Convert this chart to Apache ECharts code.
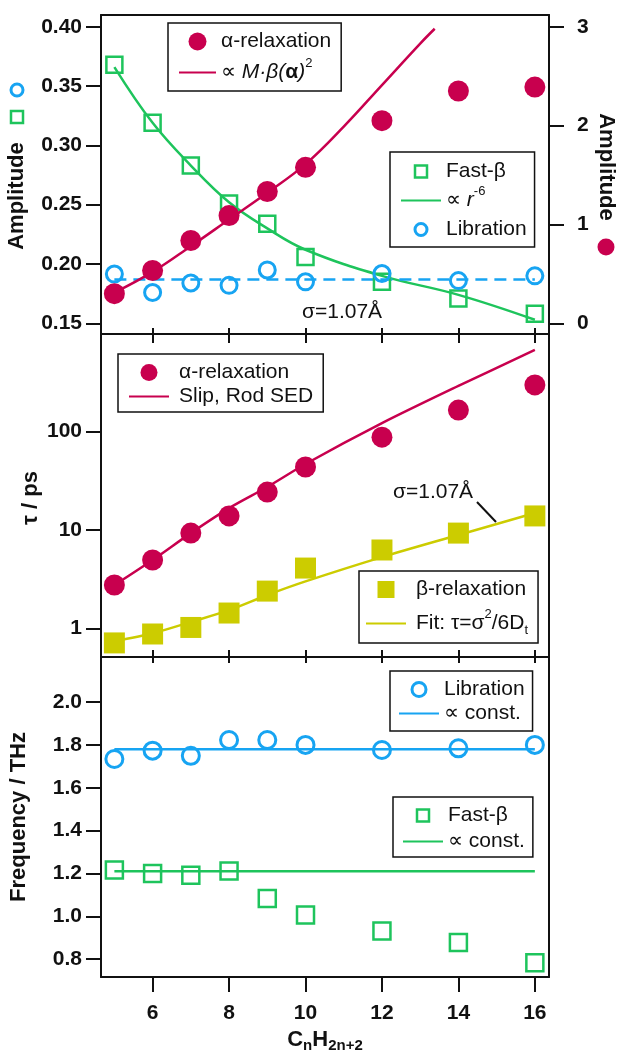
<!DOCTYPE html>
<html>
<head>
<meta charset="utf-8">
<script src="https://cdn.jsdelivr.net/npm/echarts@6/dist/echarts.min.js"></script>
<style>
  html, body { margin: 0; padding: 0; background: #fff; }
  #chart { width: 618px; height: 1054px; }
</style>
</head>
<body>
<div id="chart"></div>
<script>
// Chain length n of the alkane CnH2n+2
const chainLength = [5, 6, 7, 8, 9, 10, 12, 14, 16];
const xTicks = [6, 8, 10, 12, 14, 16];

// Panel 1: amplitudes
const fastBetaAmp = [0.368, 0.319, 0.283, 0.251, 0.234, 0.206, 0.185, 0.171, 0.158];
const fastBetaAmpFit = [0.366, 0.319, 0.283, 0.252, 0.230, 0.212, 0.190, 0.174, 0.153];
const librationAmp = [0.1915, 0.176, 0.184, 0.182, 0.195, 0.185, 0.192, 0.186, 0.190];
const librationAmpLevelX = [5, 16];
const librationAmpLevel = [0.187, 0.187];
const alphaAmp = [0.30, 0.534, 0.838, 1.09, 1.334, 1.578, 2.05, 2.35, 2.39];
const alphaAmpFitX = [5, 6, 7, 8, 9, 10, 11, 12, 13, 13.38];
const alphaAmpFit = [0.31, 0.52, 0.78, 1.05, 1.32, 1.61, 1.99, 2.41, 2.83, 2.98];
const ampTicksLeft = [0.15, 0.20, 0.25, 0.30, 0.35, 0.40];
const ampTicksRight = [0, 1, 2, 3];

// Panel 2: relaxation times (ps)
const alphaTau = [2.76, 4.95, 9.3, 13.9, 24.3, 43.7, 88, 166, 299];
const alphaTauFit = [2.75, 4.95, 9.3, 16.7, 27.4, 46.9, 122, 292, 678];
const betaTau = [0.71, 0.875, 1.02, 1.43, 2.39, 4.1, 6.26, 9.3, 13.9];
const betaTauFit = [0.74, 0.89, 1.16, 1.53, 2.18, 3.0, 5.3, 8.9, 14.9];
const tauTicks = [1, 10, 100];

// Panel 3: frequencies (THz)
const librationFreq = [1.734, 1.773, 1.749, 1.823, 1.823, 1.80, 1.776, 1.784, 1.80];
const librationFreqFitX = [5, 16];
const librationFreqFit = [1.78, 1.78];
const fastBetaFreq = [1.216, 1.20, 1.192, 1.212, 1.083, 1.006, 0.932, 0.878, 0.783];
const fastBetaFreqFitX = [5, 16];
const fastBetaFreqFit = [1.21, 1.21];
const freqTicks = [0.8, 1.0, 1.2, 1.4, 1.6, 1.8, 2.0];

const FONT = '"Liberation Sans", Arial, Helvetica, sans-serif';
const INK = '#111';
const RED = '#C8004E';
const GREEN = '#1EC45C';
const BLUE = '#17A4F2';
const OLIVE = '#CCCC00';
const CLEAR = 'rgba(0,0,0,0)';
const X_MIN = 4.65, X_MAX = 16.37;

const pairs = (xs, ys) => xs.map((x, i) => [x, ys[i]]);

const labelFont = { color: INK, fontFamily: FONT, fontSize: 21, fontWeight: 'bold' };

function xAxis(gridIndex, position, tickLen, showLabels) {
  return {
    type: 'value', gridIndex, position, min: X_MIN, max: X_MAX,
    axisLine: { show: true, onZero: false, lineStyle: { color: INK, width: 2 } },
    axisTick: { show: tickLen > 0, inside: false, length: tickLen, customValues: xTicks,
                lineStyle: { color: INK, width: 2 } },
    axisLabel: Object.assign({ show: showLabels, customValues: xTicks, margin: 26 }, labelFont),
    splitLine: { show: false }
  };
}

function yAxis(gridIndex, position, opts) {
  const ticks = opts.ticks;
  return Object.assign({
    type: 'value', gridIndex, position,
    axisLine: { show: true, onZero: false, lineStyle: { color: INK, width: 2 } },
    axisTick: { show: !!ticks, inside: false, length: 15, customValues: ticks,
                lineStyle: { color: INK, width: 2 } },
    axisLabel: Object.assign({ show: !!ticks, customValues: ticks, margin: opts.margin || 19,
                formatter: opts.fmt }, labelFont),
    splitLine: { show: false },
    minorTick: { show: false },
    minorSplitLine: { show: false }
  }, opts.extra);
}

const RICH = {
  i: { fontFamily: FONT, fontSize: 21, fontStyle: 'italic', color: INK, lineHeight: 21 },
  b: { fontFamily: FONT, fontSize: 21, fontWeight: 'bold', color: INK, lineHeight: 21 },
  sup: { fontFamily: FONT, fontSize: 13, color: INK, lineHeight: 13, padding: [0, 0, 18, 0] },
  sub: { fontFamily: FONT, fontSize: 13, color: INK, lineHeight: 13, padding: [16, 0, 2, 0] }
};

const LEGEND_TEXT = {
  alphaAmp: 'α-relaxation',
  alphaAmpFit: '∝ {i|M·β(}{b|α}{i|)}{sup|2}',
  fastBetaAmp: 'Fast-β',
  fastBetaAmpFit: '∝ {i|r}{sup|-6}',
  librationAmp: 'Libration',
  alphaTau: 'α-relaxation',
  alphaTauFit: 'Slip, Rod SED',
  betaTau: 'β-relaxation',
  betaTauFit: 'Fit: τ=σ{sup|2}/6D{sub|t}',
  librationFreq: 'Libration',
  librationFreqFit: '∝ const.',
  fastBetaFreq: 'Fast-β',
  fastBetaFreqFit: '∝ const.'
};

const SQUARE_ICON = 'path://M0,0L10,0L10,10L0,10Z';
// Fit entries: plain line, no marker in the middle
const lineEntry = (name) => ({ name, itemStyle: { color: CLEAR, borderColor: CLEAR, borderWidth: 0 } });

function legend(cfg) {
  return {
    orient: 'vertical', selectedMode: false,
    left: cfg.left, top: cfg.top,
    backgroundColor: '#fff', borderColor: INK, borderWidth: 1.5, borderRadius: 0,
    padding: cfg.padding, itemGap: cfg.gap,
    itemWidth: cfg.itemWidth, itemHeight: cfg.itemHeight,
    symbolKeepAspect: true,
    textStyle: { fontFamily: FONT, fontSize: 21, color: INK, lineHeight: 21,
                 padding: [0, 0, 0, cfg.textGap || 0], rich: RICH },
    formatter: (name) => LEGEND_TEXT[name],
    data: cfg.data
  };
}

const hollowCircle = (color) => ({ color: CLEAR, borderColor: color, borderWidth: 3, opacity: 1 });
const hollowSquare = (color) => ({ color: CLEAR, borderColor: color, borderWidth: 2.5, opacity: 1 });
const solid = (color) => ({ color, opacity: 1 });

const option = {
  animation: false,
  backgroundColor: '#fff',
  grid: [
    { left: 101, right: 69, top: 15, height: 319 },
    { left: 101, right: 69, top: 334, height: 323 },
    { left: 101, right: 69, top: 657, height: 320 }
  ],
  xAxis: [
    xAxis(0, 'bottom', 9, false),
    xAxis(0, 'top', 0, false),
    xAxis(1, 'top', 6, false),
    xAxis(1, 'bottom', 6, false),
    xAxis(2, 'top', 7, false),
    xAxis(2, 'bottom', 15, true)
  ],
  yAxis: [
    yAxis(0, 'left', { ticks: ampTicksLeft, fmt: (v) => v.toFixed(2),
                       extra: { min: 0.141, max: 0.4099 } }),
    yAxis(0, 'right', { ticks: ampTicksRight, fmt: (v) => String(v), margin: 28,
                        extra: { min: -0.108, max: 3.119 } }),
    yAxis(1, 'left', { ticks: tauTicks, fmt: (v) => String(v),
                       extra: { type: 'log', logBase: 10, min: 0.5105, max: 986 } }),
    yAxis(1, 'right', { extra: { min: 0, max: 1 } }),
    yAxis(2, 'left', { ticks: freqTicks, fmt: (v) => v.toFixed(1),
                       extra: { min: 0.717, max: 2.21 } }),
    yAxis(2, 'right', { extra: { min: 0, max: 1 } })
  ],
  legend: [
    legend({ left: 168, top: 23, padding: [8, 10, 3, 10], gap: 5, itemWidth: 37, itemHeight: 18,
             data: ['alphaAmp', lineEntry('alphaAmpFit')] }),
    legend({ left: 390, top: 152, padding: [9, 8, 7, 10], gap: 3, itemWidth: 40, itemHeight: 12,
             data: [
               { name: 'fastBetaAmp', icon: SQUARE_ICON, itemStyle: hollowSquare(GREEN) },
               lineEntry('fastBetaAmpFit'),
               { name: 'librationAmp', icon: 'circle', itemStyle: hollowCircle(BLUE) }
             ] }),
    legend({ left: 118, top: 354, padding: [8, 10, 5, 10], gap: 3, itemWidth: 40, itemHeight: 17,
             textGap: 5, data: ['alphaTau', lineEntry('alphaTauFit')] }),
    legend({ left: 359, top: 571, padding: [8, 10, 4, 6], gap: 8, itemWidth: 40, itemHeight: 17,
             textGap: 5, data: [{ name: 'betaTau', icon: SQUARE_ICON }, lineEntry('betaTauFit')] }),
    legend({ left: 390, top: 671, padding: [8, 8, 7, 8], gap: 3, itemWidth: 40, itemHeight: 14,
             data: [{ name: 'librationFreq', icon: 'circle', itemStyle: hollowCircle(BLUE) },
                    lineEntry('librationFreqFit')] }),
    legend({ left: 393, top: 797, padding: [8, 8, 5, 9], gap: 5, itemWidth: 40, itemHeight: 12,
             data: [{ name: 'fastBetaFreq', icon: SQUARE_ICON, itemStyle: hollowSquare(GREEN) },
                    lineEntry('fastBetaFreqFit')] })
  ],
  series: [
    // Panel 1
    { name: 'fastBetaAmpFit', type: 'line', xAxisIndex: 0, yAxisIndex: 0, symbol: 'none', smooth: 0.4,
      lineStyle: { color: GREEN, width: 2.5 }, itemStyle: { color: GREEN },
      data: pairs(chainLength, fastBetaAmpFit), z: 2 },
    { name: 'librationAmpLevel', type: 'line', xAxisIndex: 0, yAxisIndex: 0, symbol: 'none',
      lineStyle: { color: BLUE, width: 2.5, type: [12, 7] }, data: pairs(librationAmpLevelX, librationAmpLevel), z: 2 },
    { name: 'alphaAmpFit', type: 'line', xAxisIndex: 0, yAxisIndex: 1, symbol: 'none', smooth: 0.4,
      lineStyle: { color: RED, width: 2.5 }, itemStyle: { color: RED },
      data: pairs(alphaAmpFitX, alphaAmpFit), z: 2 },
    { name: 'fastBetaAmp', type: 'scatter', xAxisIndex: 0, yAxisIndex: 0, symbol: 'rect', symbolSize: 16,
      symbolKeepAspect: true, itemStyle: hollowSquare(GREEN), data: pairs(chainLength, fastBetaAmp), z: 3 },
    { name: 'librationAmp', type: 'scatter', xAxisIndex: 0, yAxisIndex: 0, symbol: 'circle', symbolSize: 16,
      itemStyle: hollowCircle(BLUE), data: pairs(chainLength, librationAmp), z: 3 },
    { name: 'alphaAmp', type: 'scatter', xAxisIndex: 0, yAxisIndex: 1, symbol: 'circle', symbolSize: 21,
      itemStyle: solid(RED), data: pairs(chainLength, alphaAmp), z: 3 },

    // Panel 2
    { name: 'alphaTauFit', type: 'line', xAxisIndex: 3, yAxisIndex: 2, symbol: 'none', smooth: 0.3,
      lineStyle: { color: RED, width: 2.5 }, itemStyle: { color: RED },
      data: pairs(chainLength, alphaTauFit), z: 2 },
    { name: 'betaTauFit', type: 'line', xAxisIndex: 3, yAxisIndex: 2, symbol: 'none', smooth: 0.3,
      lineStyle: { color: OLIVE, width: 2.5 }, itemStyle: { color: OLIVE },
      data: pairs(chainLength, betaTauFit), z: 2 },
    { name: 'alphaTau', type: 'scatter', xAxisIndex: 3, yAxisIndex: 2, symbol: 'circle', symbolSize: 21,
      itemStyle: solid(RED), data: pairs(chainLength, alphaTau), z: 3 },
    { name: 'betaTau', type: 'scatter', xAxisIndex: 3, yAxisIndex: 2, symbol: 'rect', symbolSize: 21,
      symbolKeepAspect: true, itemStyle: solid(OLIVE), data: pairs(chainLength, betaTau), z: 3 },

    // Panel 3
    { name: 'librationFreqFit', type: 'line', xAxisIndex: 5, yAxisIndex: 4, symbol: 'none',
      lineStyle: { color: BLUE, width: 2.5 }, itemStyle: { color: BLUE },
      data: pairs(librationFreqFitX, librationFreqFit), z: 2 },
    { name: 'fastBetaFreqFit', type: 'line', xAxisIndex: 5, yAxisIndex: 4, symbol: 'none',
      lineStyle: { color: GREEN, width: 2.5 }, itemStyle: { color: GREEN },
      data: pairs(fastBetaFreqFitX, fastBetaFreqFit), z: 2 },
    { name: 'librationFreq', type: 'scatter', xAxisIndex: 5, yAxisIndex: 4, symbol: 'circle', symbolSize: 17,
      itemStyle: hollowCircle(BLUE), data: pairs(chainLength, librationFreq), z: 3 },
    { name: 'fastBetaFreq', type: 'scatter', xAxisIndex: 5, yAxisIndex: 4, symbol: 'rect', symbolSize: 17,
      symbolKeepAspect: true, itemStyle: hollowSquare(GREEN), data: pairs(chainLength, fastBetaFreq), z: 3 }
  ],
  graphic: {
    elements: [
      { type: 'text', x: 17, y: 196, rotation: Math.PI / 2,
        style: { text: 'Amplitude', font: 'bold 22px ' + FONT, fill: INK,
                 textAlign: 'center', textVerticalAlign: 'middle', align: 'center', verticalAlign: 'middle' } },
      { type: 'circle', shape: { cx: 17, cy: 90, r: 6 },
        style: { fill: 'none', stroke: BLUE, lineWidth: 3 } },
      { type: 'rect', shape: { x: 11, y: 111, width: 12, height: 12 },
        style: { fill: 'none', stroke: GREEN, lineWidth: 2.5 } },
      { type: 'text', x: 606, y: 167, rotation: -Math.PI / 2,
        style: { text: 'Amplitude', font: 'bold 22px ' + FONT, fill: INK,
                 textAlign: 'center', textVerticalAlign: 'middle', align: 'center', verticalAlign: 'middle' } },
      { type: 'circle', shape: { cx: 606, cy: 247, r: 8.5 }, style: { fill: RED } },
      { type: 'text', x: 31, y: 498, rotation: Math.PI / 2,
        style: { text: 'τ / ps', font: 'bold 22px ' + FONT, fill: INK,
                 textAlign: 'center', textVerticalAlign: 'middle', align: 'center', verticalAlign: 'middle' } },
      { type: 'text', x: 19, y: 817, rotation: Math.PI / 2,
        style: { text: 'Frequency / THz', font: 'bold 22px ' + FONT, fill: INK,
                 textAlign: 'center', textVerticalAlign: 'middle', align: 'center', verticalAlign: 'middle' } },
      { type: 'text', x: 302, y: 312,
        style: { text: 'σ=1.07Å', font: '21px ' + FONT, fill: INK,
                 textAlign: 'left', textVerticalAlign: 'middle', align: 'left', verticalAlign: 'middle' } },
      { type: 'text', x: 393, y: 492,
        style: { text: 'σ=1.07Å', font: '21px ' + FONT, fill: INK,
                 textAlign: 'left', textVerticalAlign: 'middle', align: 'left', verticalAlign: 'middle' } },
      { type: 'line', shape: { x1: 477, y1: 502, x2: 496, y2: 522 },
        style: { stroke: INK, lineWidth: 2 } },
      { type: 'text', x: 325, y: 1040,
        style: { text: '{b|C}{s|n}{b|H}{s|2n+2}', fill: INK,
                 textAlign: 'center', textVerticalAlign: 'middle', align: 'center', verticalAlign: 'middle',
                 rich: {
                   b: { fontFamily: FONT, fontSize: 22, fontWeight: 'bold', fill: INK, lineHeight: 22 },
                   s: { fontFamily: FONT, fontSize: 15, fontWeight: 'bold', fill: INK, lineHeight: 15,
                        padding: [12, 0, 0, 0] }
                 } } }
    ]
  }
};

const chart = echarts.init(document.getElementById('chart'), null, { renderer: 'canvas' });
chart.setOption(option);
</script>
</body>
</html>
